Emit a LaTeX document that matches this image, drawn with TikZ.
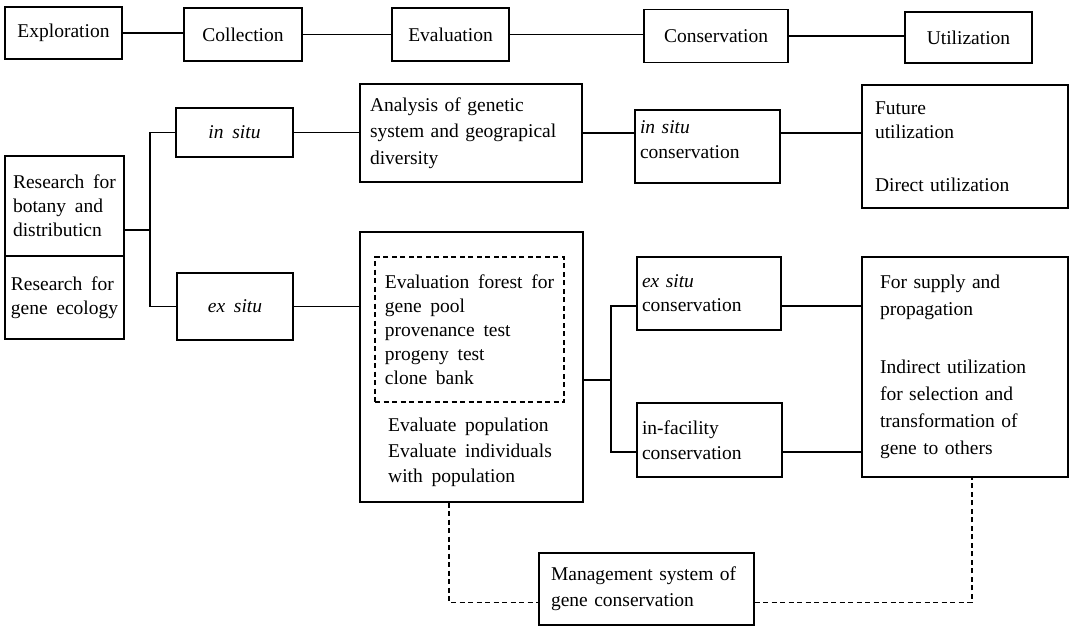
\documentclass[tikz,border=0pt]{standalone}
\usepackage{fontspec}
\setmainfont{Liberation Serif}
\newcommand{\txtfont}[1]{\fontsize{19.5}{#1}\selectfont\spaceskip=0.45em plus 0.1em minus 0.05em\relax}
\begin{document}
\begin{tikzpicture}[x=1pt,y=-1pt,
  box/.style={draw, line width=1.1pt, inner sep=0pt, align=left, font=\txtfont{25}},
  lbox/.style={box, inner xsep=#1},
  conn/.style={line width=1.1pt},
  dsh/.style={line width=1.1pt, dash pattern=on 5pt off 3.5pt}]
\useasboundingbox (0,0) rectangle (1071,627);

% top row
\node[box, minimum width=117pt, minimum height=52pt] (expl) at (63.5,33) {Exploration};
\node[box, minimum width=118pt, minimum height=53pt] (coll) at (243,34.5) {Collection};
\node[box, minimum width=117pt, minimum height=53pt] (evalt) at (450.5,34.5) {Evaluation};
\node[box, minimum width=144pt, minimum height=53pt] (cons) at (716,36) {Conservation};
\node[box, minimum width=127pt, minimum height=51pt] (util) at (968.5,37.5) {Utilization};
\draw[conn] (expl.east) -- (expl.east -| coll.west);
\draw[conn] (coll.east) -- (coll.east -| evalt.west);
\draw[conn] (evalt.east) -- (evalt.east -| cons.west);
\draw[conn] (cons.east) -- (cons.east -| util.west);

% research boxes
\node[box, minimum width=119pt, minimum height=100pt, font=\txtfont{24}] (rs1) at (64.5,206) {Research for\\botany and\\distributicn};
\node[box, minimum width=119pt, minimum height=83pt, font=\txtfont{24}] (rs2) at (64.5,297.5) {Research for\\gene ecology};
\coordinate (j1) at (150,230);
\node[box, minimum width=117pt, minimum height=49pt] (insitu) at (234.5,132.5) {\textit{in situ}};
\node[box, minimum width=116pt, minimum height=67pt] (exsitu) at (235,306.5) {\textit{ex situ}};
\draw[conn] (rs1.east |- j1) -- (j1);
\draw[conn] (insitu.west) -| (j1) |- (exsitu.west);

% upper branch
\node[lbox=10pt, text width=202pt, minimum width=222pt, minimum height=98pt, font=\txtfont{26.5}] (analysis) at (471,133) {Analysis of genetic\\system and geograpical\\diversity};
\node[lbox=5pt, text width=135pt, minimum width=145pt, minimum height=73pt] (insitucons) at (707.5,146.5) {\textit{in situ}\\conservation\\[-12pt]\mbox{}};
\node[lbox=13pt, text width=180pt, minimum width=206pt, minimum height=123pt, font=\txtfont{24.5}] (future) at (965,146.5) {Future\\utilization\\[28pt]Direct utilization};
\draw[conn] (insitu.east) -- (insitu.east -| analysis.west);
\draw[conn] (analysis.east) -- (analysis.east -| insitucons.west);
\draw[conn] (insitucons.east |- analysis.east) -- (analysis.east -| future.west);

% lower branch
\node[box, minimum width=223pt, minimum height=270pt] (bigbox) at (471.5,367) {};
\node[box, dash pattern=on 5pt off 3.5pt, minimum width=189pt, minimum height=145pt, font=\txtfont{24}] (dashbox) at (469.5,329.5) {Evaluation forest for\\gene pool\\provenance test\\progeny test\\clone bank};
\node[anchor=west, inner sep=0pt, align=left, font=\txtfont{25.5}] (evaltext) at (388,452.5) {Evaluate population\\Evaluate individuals\\with population};
\draw[conn] (exsitu.east) -- (exsitu.east -| bigbox.west);

\node[lbox=5pt, text width=134pt, minimum width=144pt, minimum height=73pt, font=\txtfont{24}] (excons) at (709,293.5) {\textit{ex situ}\\conservation};
\node[lbox=5pt, text width=135pt, minimum width=145pt, minimum height=74pt] (infac) at (709.5,440) {in-facility\\conservation};
\node[lbox=18pt, text width=170pt, minimum width=206pt, minimum height=220pt, font=\txtfont{27}] (rightbox) at (965,367) {For supply and\\propagation\\[31pt]Indirect utilization\\for selection and\\transformation of\\gene to others};
\coordinate (j2) at (611,380);
\draw[conn] (bigbox.east |- j2) -- (j2);
\draw[conn] ([yshift=-12.5pt]excons.west) -| (j2) |- ([yshift=-12pt]infac.west);
\draw[conn] ([yshift=-12.5pt]excons.east) -- ([yshift=-12.5pt]excons.east -| rightbox.west);
\draw[conn] ([yshift=-12pt]infac.east) -- ([yshift=-12pt]infac.east -| rightbox.west);

% management
\node[lbox=12pt, text width=191pt, minimum width=215pt, minimum height=72pt, font=\txtfont{26}] (mgmt) at (646.5,589) {Management system of\\gene conservation};
\coordinate (d1) at (449,602.5);
\coordinate (d2) at (972,602.5);
\draw[dsh] (bigbox.south -| d1) -- (d1) -- (d1 -| mgmt.west);
\draw[dsh] (mgmt.east |- d2) -- (d2) -- (d2 |- rightbox.south);
\end{tikzpicture}
\end{document}
